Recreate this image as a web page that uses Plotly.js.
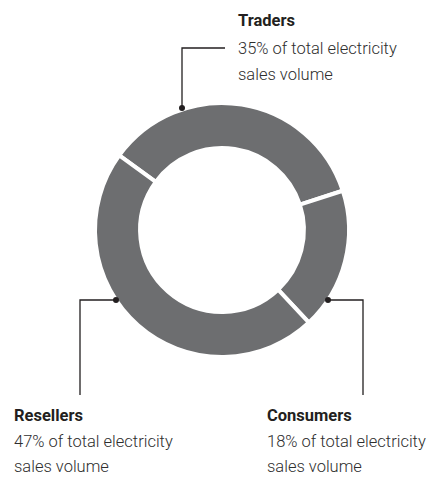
<!DOCTYPE html>
<html>
<head>
<meta charset="utf-8">
<script src="https://cdn.plot.ly/plotly-3.0.1.min.js"></script>
<style>html,body{margin:0;padding:0;background:#fff;}#chart{width:430px;height:478px;}</style>
</head>
<body>
<div id="chart"></div>
<script>
const categories = ["Traders", "Consumers", "Resellers"];
const shares = [35, 18, 47];
const descriptions = ["35% of total electricity", "18% of total electricity", "47% of total electricity"];
const secondLines = ["sales volume", "sales volume", "sales volume"];

const W = 430, H = 478;
const px = x => x / W;
const py = y => 1 - y / H;
const FONT = "Roboto, 'Liberation Sans', sans-serif";

const cx = 222, cy = 230, R = 127;

const trace = {
  type: "pie",
  labels: categories,
  values: shares,
  sort: false,
  direction: "clockwise",
  rotation: -54,
  hole: 0.645,
  textinfo: "none",
  hoverinfo: "label+percent",
  marker: { colors: ["#6d6e70", "#6d6e70", "#6d6e70"], line: { color: "#ffffff", width: 4 } },
  domain: { x: [px(cx - R), px(cx + R)], y: [py(cy + R), py(cy - R)] },
  showlegend: false
};

const blocks = [
  { x: 237, ys: [21, 48, 74] },
  { x: 266, ys: [415, 441, 466] },
  { x: 13, ys: [415, 441, 466] }
];

const annotations = [];
categories.forEach((c, i) => {
  const b = blocks[i];
  const texts = [c, descriptions[i], secondLines[i]];
  texts.forEach((t, j) => {
    annotations.push({
      xref: "paper", yref: "paper", x: px(b.x), y: py(b.ys[j]),
      xanchor: "left", yanchor: "middle", showarrow: false, text: t, borderpad: 0,
      font: { family: FONT, size: 16.5, weight: j === 0 ? 700 : 300, color: j === 0 ? "#231f20" : "#2e2e2e" }
    });
  });
});

const lineStyle = { color: "#231f20", width: 1.3 };
const leaders = [
  [[182, 108], [182, 48], [225, 48]],
  [[328, 300], [363, 300], [363, 395]],
  [[116, 300], [80, 300], [80, 395]]
];
const shapes = [];
leaders.forEach(pts => {
  const d = pts.map((p, k) => (k ? "L" : "M") + px(p[0]).toFixed(5) + "," + py(p[1]).toFixed(5)).join(" ");
  shapes.push({ type: "path", xref: "paper", yref: "paper", path: d, line: lineStyle });
  const r = 3;
  shapes.push({
    type: "circle", xref: "paper", yref: "paper",
    x0: px(pts[0][0] - r), x1: px(pts[0][0] + r), y0: py(pts[0][1] + r), y1: py(pts[0][1] - r),
    fillcolor: "#231f20", line: { width: 0 }
  });
});

const layout = {
  width: W, height: H,
  margin: { l: 0, r: 0, t: 0, b: 0 },
  paper_bgcolor: "#ffffff",
  plot_bgcolor: "#ffffff",
  annotations: annotations,
  shapes: shapes,
  showlegend: false
};

Plotly.newPlot("chart", [trace], layout, { displayModeBar: false, staticPlot: true });
</script>
</body>
</html>
